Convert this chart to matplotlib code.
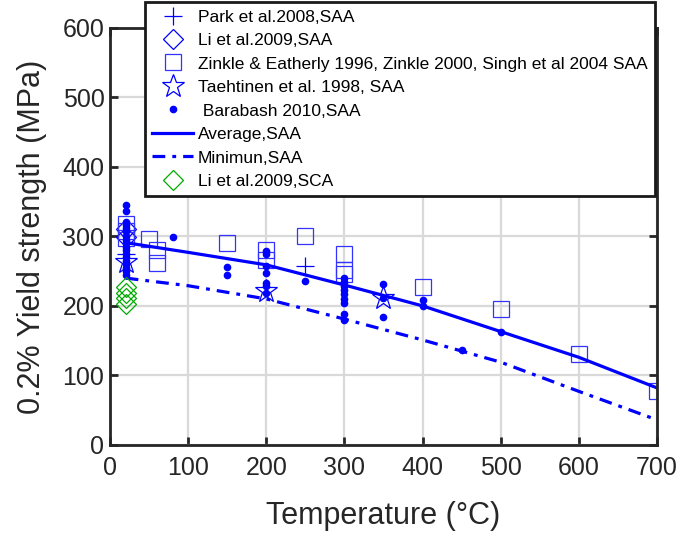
import matplotlib
matplotlib.use("Agg")
import matplotlib.pyplot as plt

plt.rcParams['font.family'] = ['Liberation Sans', 'DejaVu Sans']

# Park et al. 2008, SAA
park_T = [20, 250]
park_Y = [274, 257]
# Li et al. 2009, SAA
li_saa_T = [20, 20]
li_saa_Y = [310, 299]
# Zinkle & Eatherly 1996, Zinkle 2000, Singh et al 2004 SAA
zin_T = [20, 20, 20, 50, 60, 60, 150, 200, 200, 250, 300, 300, 300, 400, 500, 600, 700]
zin_Y = [318, 308, 298, 296, 281, 261, 290, 281, 266, 300, 274, 251, 246, 227, 196, 131, 77]
# Taehtinen et al. 1998, SAA
tae_T = [20, 200, 350]
tae_Y = [263, 221, 211]
# Barabash 2010, SAA
bar_T = [20] * 18 + [80, 150, 150, 200, 200, 200, 200, 200, 200, 200, 250,
                     300, 300, 300, 300, 300, 300, 300, 300, 300,
                     350, 350, 350, 400, 400, 450, 500]
bar_Y = [345, 337, 320, 316, 312, 308, 300, 295, 290, 285, 280, 275, 270, 265, 260, 255, 250, 245,
         299, 256, 244, 279, 274, 257, 247, 233, 229, 219, 236,
         240, 235, 229, 223, 217, 210, 204, 188, 180,
         231, 211, 184, 209, 200, 137, 163]
# Average and minimum, SAA
avg_T = [20, 100, 200, 300, 400, 500, 600, 700]
avg_Y = [291, 277, 259, 230, 200, 163, 126, 82]
min_T = [20, 100, 200, 300, 400, 500, 600, 700]
min_Y = [240, 229, 210, 181, 151, 119, 77, 36]
# Li et al. 2009, SCA
li_sca_T = [20, 20, 20, 20]
li_sca_Y = [227, 219, 212, 203]

xticks = [0, 100, 200, 300, 400, 500, 600, 700]
yticks = [0, 100, 200, 300, 400, 500, 600]

blue = '#0000ff'
green = '#00aa00'

fig = plt.figure(figsize=(6.85, 5.36), dpi=100)
ax = fig.add_axes([0.1606, 0.170, 0.7985, 0.778])

ax.plot(park_T, park_Y, ls='none', marker='+', ms=13, mew=0.9, color=blue, label='Park et al.2008,SAA')
ax.plot(li_saa_T, li_saa_Y, ls='none', marker='D', ms=10, mew=0.9, mfc='none', mec=blue, label='Li et al.2009,SAA')
ax.plot(zin_T, zin_Y, ls='none', marker='s', ms=11.5, mew=0.9, mfc='none', mec='#3333ff',
        label='Zinkle & Eatherly 1996, Zinkle 2000, Singh et al 2004 SAA')
ax.plot(tae_T, tae_Y, ls='none', marker='*', ms=17, mew=0.9, mfc='none', mec=blue, label='Taehtinen et al. 1998, SAA')
ax.plot(bar_T, bar_Y, ls='none', marker='o', ms=4.5, mew=1.0, mfc=blue, mec=blue, label=' Barabash 2010,SAA')
ax.plot(avg_T, avg_Y, ls='-', lw=2.3, color=blue, label='Average,SAA')
ax.plot(min_T, min_Y, ls=(0, (4, 2.2, 1.2, 2.2)), lw=2.3, color=blue, label='Minimun,SAA')
ax.plot(li_sca_T, li_sca_Y, ls='none', marker='D', ms=10, mew=0.9, mfc='none', mec=green, label='Li et al.2009,SCA')

ax.set_xlim(0, 700)
ax.set_ylim(0, 600)
ax.set_xticks(xticks)
ax.set_yticks(yticks)
ax.grid(True, color='#d9d9d9', lw=1.6)
ax.set_axisbelow(True)
for s in ax.spines.values():
    s.set_linewidth(2.0)
    s.set_color('#262626')
ax.tick_params(direction='in', length=6, width=2, colors='#262626', labelsize=18,
               top=True, right=True)
ax.tick_params(axis='x', pad=8)
ax.tick_params(axis='y', pad=4)
ax.set_xlabel('Temperature (°C)', fontsize=22, color='#262626', labelpad=15)
ax.set_ylabel('0.2% Yield strength (MPa)', fontsize=22, color='#262626', labelpad=11)

leg = ax.legend(loc='upper left', bbox_to_anchor=(0.211, 0.996), bbox_transform=fig.transFigure,
                fontsize=12.5, frameon=True, fancybox=False, edgecolor='#1a1a1a',
                borderaxespad=0, handlelength=2.4, handletextpad=0.25, labelspacing=0.48,
                borderpad=0.42, framealpha=1)
leg.get_frame().set_linewidth(2.0)
leg.set_zorder(10)

fig.savefig('out.png', dpi=100)
